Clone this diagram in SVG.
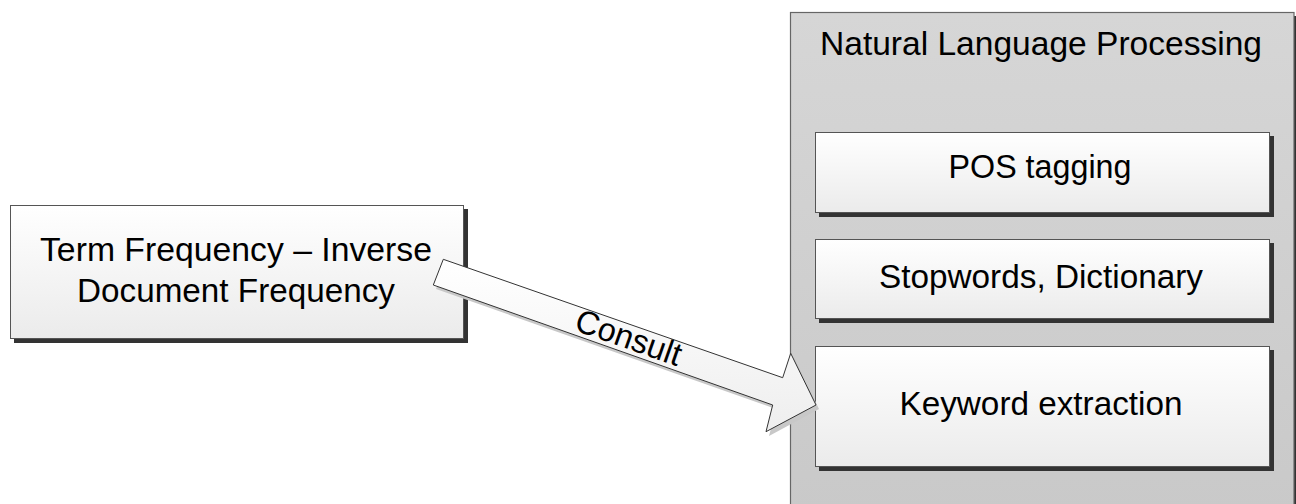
<svg xmlns="http://www.w3.org/2000/svg" width="1296" height="504" viewBox="0 0 1296 504">
  <defs>
    <linearGradient id="boxFill" x1="0" y1="0" x2="0" y2="1">
      <stop offset="0" stop-color="#ffffff"/>
      <stop offset="1" stop-color="#ebebeb"/>
    </linearGradient>
    <linearGradient id="groupFill" x1="0" y1="0" x2="0" y2="1">
      <stop offset="0" stop-color="#d6d6d6"/>
      <stop offset="1" stop-color="#c9c9c9"/>
    </linearGradient>
    <linearGradient id="arrowFill" x1="0" y1="0" x2="0" y2="1">
      <stop offset="0" stop-color="#ffffff"/>
      <stop offset="1" stop-color="#eeeeee"/>
    </linearGradient>
  </defs>
  <style>
    .label { font-family: "Liberation Sans", Arial, sans-serif; font-size: 33px; fill: #000; text-anchor: middle; }
    .box { fill: url(#boxFill); stroke: #555; stroke-width: 1; }
    .shadow { fill: #333; }
    .group { fill: url(#groupFill); stroke: #666; stroke-width: 1.2; }
    .arrow { fill: url(#arrowFill); stroke: #333; stroke-width: 1; }
    .arrow-shadow { fill: #c8c8c8; }
  </style>
  <rect width="1296" height="504" fill="#ffffff"/>

  <!-- NLP container -->
  <g id="nlp">
    <rect class="shadow" x="1294" y="16" width="6" height="500"/>
    <rect class="group" x="790.5" y="12.5" width="503.5" height="500"/>
    <text class="label" x="1041" y="55" textLength="442" lengthAdjust="spacingAndGlyphs">Natural Language Processing</text>
  </g>

  <g id="pos-tagging">
    <rect class="shadow" x="819" y="136" width="455" height="81"/>
    <rect class="box" x="815.5" y="132.5" width="454" height="80"/>
    <text class="label" x="1040" y="178" textLength="183" lengthAdjust="spacingAndGlyphs">POS tagging</text>
  </g>

  <g id="stopwords">
    <rect class="shadow" x="819" y="243" width="455" height="80"/>
    <rect class="box" x="815.5" y="239.5" width="454" height="79"/>
    <text class="label" x="1041" y="288" textLength="324" lengthAdjust="spacingAndGlyphs">Stopwords, Dictionary</text>
  </g>

  <g id="keyword-extraction">
    <rect class="shadow" x="819" y="350" width="455" height="121"/>
    <rect class="box" x="815.5" y="346.5" width="454" height="120"/>
    <text class="label" x="1041" y="415" textLength="283" lengthAdjust="spacingAndGlyphs">Keyword extraction</text>
  </g>

  <g id="tfidf">
    <rect class="shadow" x="14" y="209" width="454" height="134"/>
    <rect class="box" x="10.5" y="205.5" width="453" height="133"/>
    <text class="label" x="236" y="261" textLength="392" lengthAdjust="spacingAndGlyphs">Term Frequency – Inverse</text>
    <text class="label" x="236" y="302" textLength="318" lengthAdjust="spacingAndGlyphs">Document Frequency</text>
  </g>

  <!-- connectors -->
  <g id="connectors">
    <polygon class="arrow-shadow" points="446,263 786,381 794,357 819,409 769,436 776,409 436,289"/>
    <polygon class="arrow" points="443.3,259.3 782.7,377.7 790.7,353.3 816,405 766,431.7 772.7,405 433.3,285"/>
    <text class="label" x="625" y="348" transform="rotate(19.4 625 348)" textLength="110" lengthAdjust="spacingAndGlyphs">Consult</text>
  </g>
</svg>
